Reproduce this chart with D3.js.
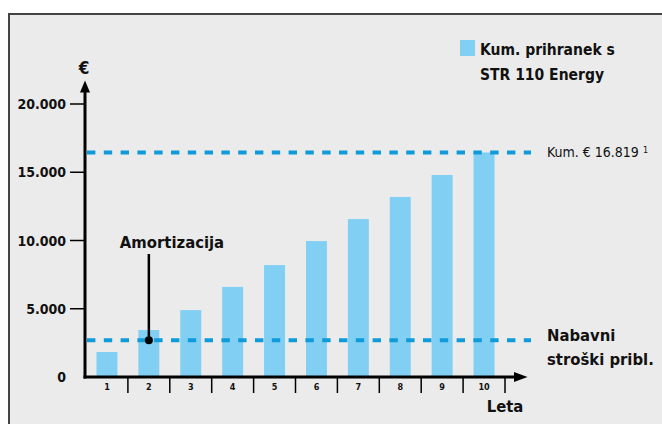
<!DOCTYPE html>
<html>
<head>
<meta charset="utf-8">
<script src="https://cdn.jsdelivr.net/npm/d3@7"></script>
<style>
  html, body { margin: 0; padding: 0; background: #fff; }
  svg { display: block; }
  text { font-family: "Liberation Sans Narrow", "DejaVu Sans Condensed", "Arial Narrow", sans-serif; fill: #111; }
</style>
</head>
<body>
<div id="chart"></div>
<script>
// data
var years = ['1', '2', '3', '4', '5', '6', '7', '8', '9', '10'];
var savings = [1830, 3440, 4900, 6600, 8200, 9960, 11570, 13190, 14800, 16450];
var yTicks = [0, 5000, 10000, 15000, 20000];
var cumulativeLevel = 16450;
var cumulativeLabel = ['Kum. € 16.819', '1'];
var purchaseCost = 2700;
var purchaseLabel = ['Nabavni', 'stroški pribl.'];
var legendLabel = ['Kum. prihranek s', 'STR 110 Energy'];
var paybackYear = '2';

var width = 662, height = 424;
var barColor = '#82cff4';
var lineColor = '#0f9ad9';

var svg = d3.select('#chart').append('svg')
    .attr('width', width)
    .attr('height', height);

// panel with border on top and left
svg.append('rect')
    .attr('x', 9).attr('y', 14)
    .attr('width', width - 9).attr('height', height - 14)
    .style('fill', '#ebebeb');
svg.append('path')
    .attr('d', 'M9,' + height + 'V14H' + width)
    .style('fill', 'none')
    .style('stroke', '#444')
    .style('stroke-width', 2);

var x = d3.scaleBand()
    .domain(years)
    .range([86, 505])
    .paddingInner(0.5)
    .paddingOuter(0.25);
var y = d3.scaleLinear()
    .domain([0, 20000])
    .range([377, 104]);

// bars
svg.selectAll('.bar')
    .data(savings)
    .enter().append('rect')
    .attr('class', 'bar')
    .attr('x', function (d, i) { return x(years[i]); })
    .attr('width', x.bandwidth())
    .attr('y', function (d) { return y(d); })
    .attr('height', function (d) { return y(0) - y(d); })
    .style('fill', barColor);

// dashed reference lines
[cumulativeLevel, purchaseCost].forEach(function (v) {
    svg.append('line')
        .attr('x1', 87).attr('x2', 531)
        .attr('y1', y(v)).attr('y2', y(v))
        .style('stroke', lineColor)
        .style('stroke-width', 4)
        .style('stroke-dasharray', '8.4,8.4');
});

// y axis
svg.append('line')
    .attr('x1', 85).attr('x2', 85)
    .attr('y1', y(0) + 1.5).attr('y2', 90)
    .style('stroke', '#000').style('stroke-width', 3);
svg.append('path')
    .attr('d', 'M85,80.5L90,92.5H80Z')
    .style('fill', '#000');
svg.append('text')
    .attr('x', 84).attr('y', 74)
    .attr('text-anchor', 'middle')
    .style('font-weight', 'bold').style('font-size', '17px')
    .text('€');

var yt = svg.selectAll('.ytick')
    .data(yTicks)
    .enter().append('g')
    .attr('class', 'ytick')
    .attr('transform', function (d) { return 'translate(0,' + y(d) + ')'; });
yt.filter(function (d) { return d > 0; }).append('line')
    .attr('x1', 70).attr('x2', 85)
    .style('stroke', '#000').style('stroke-width', 1.5);
yt.append('text')
    .attr('x', 66).attr('y', 5)
    .attr('text-anchor', 'end')
    .style('font-weight', 'bold').style('font-size', '14px')
    .text(function (d) { return d === 0 ? '0' : d3.format(',')(d).replace(/,/g, '.'); });

// x axis
svg.append('line')
    .attr('x1', 83.5).attr('x2', 517)
    .attr('y1', y(0)).attr('y2', y(0))
    .style('stroke', '#000').style('stroke-width', 3);
svg.append('path')
    .attr('d', 'M527.5,' + y(0) + 'L514,' + (y(0) - 5) + 'V' + (y(0) + 5) + 'Z')
    .style('fill', '#000');

var step = x.step();
svg.selectAll('.xsep')
    .data(years)
    .enter().append('line')
    .attr('class', 'xsep')
    .attr('x1', function (d) { return x(d) + x.bandwidth() + step / 4; })
    .attr('x2', function (d) { return x(d) + x.bandwidth() + step / 4; })
    .attr('y1', y(0)).attr('y2', y(0) + 16)
    .style('stroke', '#000').style('stroke-width', 1.5);
svg.selectAll('.xlabel')
    .data(years)
    .enter().append('text')
    .attr('class', 'xlabel')
    .attr('x', function (d) { return x(d) + x.bandwidth() / 2; })
    .attr('y', y(0) + 13)
    .attr('text-anchor', 'middle')
    .style('font-weight', 'bold').style('font-size', '9px')
    .text(function (d) { return d; });
svg.append('text')
    .attr('x', 505).attr('y', 412)
    .attr('text-anchor', 'middle')
    .style('font-weight', 'bold').style('font-size', '16.5px')
    .text('Leta');

// legend
svg.append('rect')
    .attr('x', 460).attr('y', 40)
    .attr('width', 15).attr('height', 16)
    .style('fill', barColor);
svg.selectAll('.legend')
    .data(legendLabel)
    .enter().append('text')
    .attr('class', 'legend')
    .attr('x', 480)
    .attr('y', function (d, i) { return 55 + i * 25; })
    .style('font-weight', 'bold').style('font-size', '15.5px')
    .text(function (d) { return d; });

// line labels
var kum = svg.append('text')
    .attr('x', 547).attr('y', y(cumulativeLevel) + 5)
    .style('font-size', '14px')
    .text(cumulativeLabel[0] + ' ');
kum.append('tspan')
    .attr('dy', -4)
    .style('font-size', '9px')
    .text(cumulativeLabel[1]);

svg.selectAll('.plabel')
    .data(purchaseLabel)
    .enter().append('text')
    .attr('class', 'plabel')
    .attr('x', 547)
    .attr('y', function (d, i) { return y(purchaseCost) + 1 + i * 24; })
    .style('font-weight', 'bold').style('font-size', '16.5px')
    .text(function (d) { return d; });

// payback annotation
var px = x(paybackYear) + x.bandwidth() / 2;
svg.append('line')
    .attr('x1', px).attr('x2', px)
    .attr('y1', 254).attr('y2', y(purchaseCost))
    .style('stroke', '#000').style('stroke-width', 2.5);
svg.append('circle')
    .attr('cx', px).attr('cy', y(purchaseCost))
    .attr('r', 4)
    .style('fill', '#000');
svg.append('text')
    .attr('x', px - 29).attr('y', 248)
    .style('font-weight', 'bold').style('font-size', '16.5px')
    .text('Amortizacija');
</script>
</body>
</html>
